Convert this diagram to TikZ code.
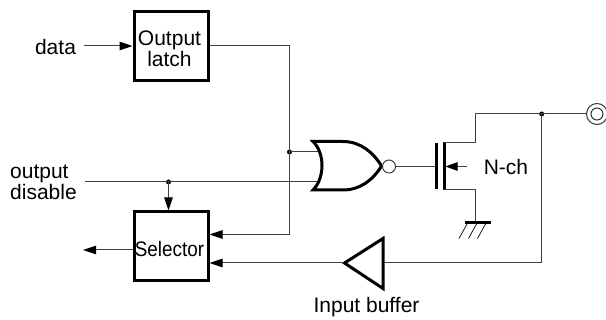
\documentclass[tikz,border=0pt]{standalone}
\usepackage{fontspec}
\setmainfont{Liberation Sans}
\usetikzlibrary{arrows.meta}
\tikzset{
  wire/.style={line width=1pt,draw=black!75},
  arrowwire/.style={wire,-{Triangle[length=13pt,width=8.5pt,black]}},
  heavy/.style={line width=3pt,draw=black,line cap=butt},
  blockbox/.style={draw=black,line width=3pt,fill=white,minimum width=74pt,minimum height=69pt,inner sep=0pt},
  lbl/.style={inner sep=0pt,font=\fontsize{21}{21}\selectfont,anchor=base},
  lblc/.style={inner sep=0pt,font=\fontsize{21}{21}\selectfont,align=center},
  lblleft/.style={inner sep=0pt,font=\fontsize{21}{21}\selectfont,align=left,anchor=west},
  joint/.style={circle,fill=black,inner sep=0pt,minimum size=5pt},
  bubble/.style={circle,draw=black!75,line width=1pt,fill=white,inner sep=0pt,minimum size=13pt}
}
\begin{document}
\begin{tikzpicture}[x=1pt,y=-1pt]
\useasboundingbox (0,0) rectangle (606,320);
% blocks
\node[blockbox] (latch) at (171,46.5) {};
\node[blockbox] (sel) at (171,246.5) {};
\node[lblc] (latchT) at (169.5,48.5) {Output\\latch};
\node[lbl] (selT) at (169.5,257) {\scalebox{0.9}[1]{Selector}};
% labels
\node[lbl] (data) at (55.5,55) {data};
\coordinate (dataS) at (84,46);
\node[lblleft] (od) at (10,182) {output\\disable};
\coordinate (odS) at (85,182);
\coordinate (selOut) at (83,250);
\node[lbl] (nch) at (506,175) {N-ch};
\node[lbl] (ib) at (366.5,313) {Input buffer};
% junctions
\node[joint] (j1) at (289.5,152) {};
\node[joint] (j2) at (168.5,182) {};
\node[joint] (j3) at (541.7,114) {};
% wires
\draw[arrowwire] (dataS) -- (latch.west |- dataS);
\coordinate (latchOut) at (latch.east |- 0,46);
\coordinate (selIn1) at (sel.east |- 0,234.5);
\coordinate (selIn2) at (sel.east |- 0,263);
\draw[wire] (latchOut) -- (289.5,46) -- (j1.center);
\draw[arrowwire] (j1.center) -- (289.5,234.5) -- (selIn1);
\draw[wire] (odS) -- (322,182);
\draw[wire] (j1.center) -- (322,152);
\draw[arrowwire] (j2.center) -- (sel.north -| j2);
\draw[arrowwire] (sel.west |- selOut) -- (selOut);
% NOR gate
\draw[heavy,line join=miter,fill=white] (313,141.5) -- (343,141.5)
   .. controls (360,141.5) and (373,152) .. (381.5,166)
   .. controls (373,180) and (360,190) .. (343,190)
   -- (313,190)
   .. controls (325,178) and (325,153) .. (313,141.5) -- cycle;
\node[bubble] (bub) at (389,166.5) {};
% MOSFET
\coordinate (gateM) at (436,166.5);
\draw[wire] (bub) -- (gateM);
\draw[heavy] (436,143) -- (436,189.5);
\draw[heavy] (444,142) -- (444,190);
\draw[wire] (444,142.5) -- (475.7,142.5) -- (475.7,114) -- (j3.center);
\coordinate (gndT) at (475.7,223);
\draw[wire] (444,189.5) -- (475.7,189.5) -- (gndT);
\draw[wire,-{Triangle[length=12pt,width=8.5pt,black]}] (467,166.5) -- (445.5,166.5);
% ground
\draw[heavy] (465,223) -- (491,223);
\draw[line width=0.7pt] (467,224) -- (459,238.5);
\draw[line width=0.7pt] (476.5,224) -- (468.5,238.5);
\draw[line width=0.7pt] (485.5,224) -- (477.5,238.5);
% output terminal
\node[circle,draw=black!80,line width=1pt,inner sep=0pt,minimum size=21pt] (termO) at (597,114) {};
\node[circle,draw=black!80,line width=1pt,inner sep=0pt,minimum size=12pt] (termI) at (597,114) {};
\draw[wire] (j3.center) -- (termO.west);
% input buffer
\coordinate (bufB) at (383,263);
\coordinate (bufT) at (344,263);
\draw[wire] (termO.west -| j3) -- (541.7,263) -- (bufB);
\draw[heavy,line join=miter] (383,238.5) -- (344.5,263) -- (383,288.5) -- cycle;
\draw[arrowwire] (bufT) -- (selIn2);
\end{tikzpicture}
\end{document}
